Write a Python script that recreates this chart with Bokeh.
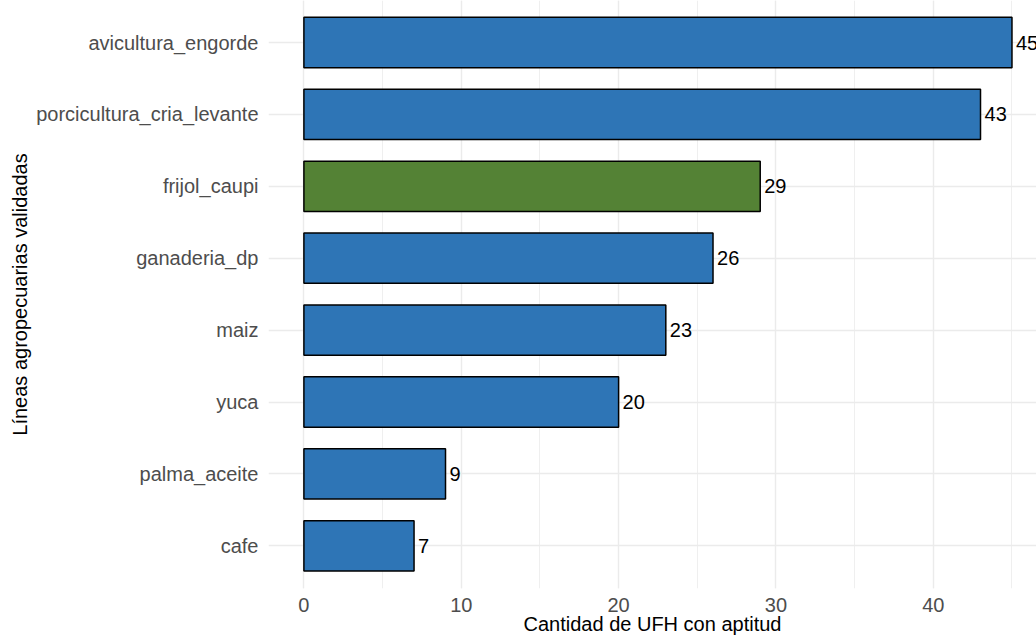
from bokeh.plotting import figure
from bokeh.models import Range1d, FixedTicker, SingleIntervalTicker, ColumnDataSource
from bokeh.core.properties import value
from bokeh.embed import file_html
from bokeh.resources import INLINE

# ---- data ----
categories = ["cafe", "palma_aceite", "yuca", "maiz", "ganaderia_dp",
              "frijol_caupi", "porcicultura_cria_levante", "avicultura_engorde"]
values = [7, 9, 20, 23, 26, 29, 43, 45]
highlight = "frijol_caupi"
x_ticks = [0, 10, 20, 30, 40]
x_title = "Cantidad de UFH con aptitud"
y_title = "Líneas agropecuarias validadas"

BLUE = "#2E75B6"
GREEN = "#548235"
FONT = "Liberation Sans"

pos = list(range(1, len(categories) + 1))
colors = [GREEN if c == highlight else BLUE for c in categories]
src = ColumnDataSource(dict(pos=pos, val=values, color=colors,
                            lab=[str(v) for v in values], cat=categories))

W, H = 1036, 637
FRAME_LEFT = 268
FRAME_H = 588

# ranges (ggplot-like expansion; the view is cropped at top and right)
x_lo = -0.05 * max(values)
px_per_x = 15.735
frame_w = W - FRAME_LEFT
px_per_y = 71.9
y_hi = len(categories) + 42 / px_per_y
y_lo = y_hi - FRAME_H / px_per_y

p = figure(width=W, height=H, output_backend="svg", toolbar_location=None,
           x_range=Range1d(x_lo, x_lo + frame_w / px_per_x),
           y_range=Range1d(y_lo, y_hi),
           min_border_left=FRAME_LEFT, min_border_right=0, min_border_top=0,
           min_border_bottom=H - FRAME_H)
p.outline_line_color = None
p.background_fill_color = "white"
p.border_fill_color = "white"

p.hbar(y="pos", left=0, right="val", height=0.7, source=src,
       fill_color="color", line_color="black", line_width=1.5)
p.text(x="val", y="pos", text="lab", source=src, x_offset=4,
       text_align="left", text_baseline="middle",
       text_font=value(FONT), text_font_size="20px", text_color="black")

# grids
p.xgrid.ticker = SingleIntervalTicker(interval=10, num_minor_ticks=2)
p.xgrid.grid_line_color = "#EBEBEB"
p.xgrid.grid_line_width = 1.4
p.xgrid.minor_grid_line_color = "#EBEBEB"
p.xgrid.minor_grid_line_width = 0.8
p.ygrid.ticker = FixedTicker(ticks=pos)
p.ygrid.grid_line_color = "#EBEBEB"
p.ygrid.grid_line_width = 1.4

# axes
for ax in (p.xaxis[0], p.yaxis[0]):
    ax.axis_line_color = None
    ax.major_tick_line_color = None
    ax.minor_tick_line_color = None
    ax.major_tick_out = 0
    ax.major_tick_in = 0
    ax.minor_tick_out = 0
    ax.minor_tick_in = 0
    ax.major_label_text_font = FONT
    ax.major_label_text_font_size = "20px"
    ax.major_label_text_color = "#4D4D4D"
    ax.axis_label_text_font = FONT
    ax.axis_label_text_font_size = "20px"
    ax.axis_label_text_font_style = "normal"
    ax.axis_label_text_color = "black"

p.xaxis.ticker = FixedTicker(ticks=x_ticks)
p.xaxis.major_label_standoff = 9
p.xaxis.axis_label = x_title
p.xaxis.axis_label_standoff = -2

p.yaxis.ticker = FixedTicker(ticks=pos)
p.yaxis.major_label_overrides = {i: c for i, c in zip(pos, categories)}
p.yaxis.major_label_standoff = 10
p.yaxis.axis_label = y_title
p.yaxis.axis_label_standoff = 2

open("out.html", "w").write(file_html(p, INLINE))
